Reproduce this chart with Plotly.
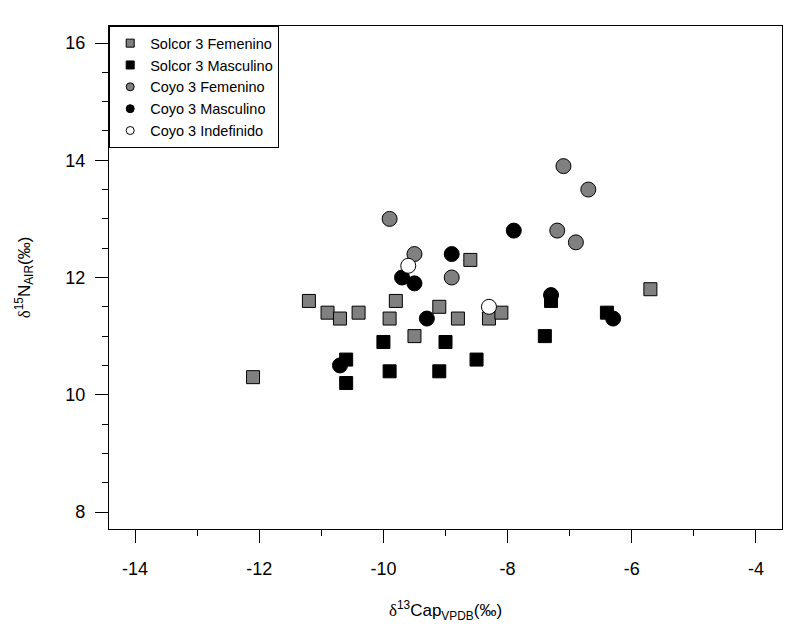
import plotly.graph_objects as go

# Solcor 3 Femenino
solcor_fem_x = [-12.1, -11.2, -10.9, -10.7, -10.4, -9.9, -9.8, -9.5, -9.1, -8.8, -8.6, -8.3, -8.1, -5.7]
solcor_fem_y = [10.3, 11.6, 11.4, 11.3, 11.4, 11.3, 11.6, 11.0, 11.5, 11.3, 12.3, 11.3, 11.4, 11.8]

# Solcor 3 Masculino
solcor_mas_x = [-10.6, -10.6, -10.0, -9.9, -9.1, -9.0, -8.5, -7.4, -7.3, -6.4]
solcor_mas_y = [10.6, 10.2, 10.9, 10.4, 10.4, 10.9, 10.6, 11.0, 11.6, 11.4]

# Coyo 3 Femenino
coyo_fem_x = [-9.9, -9.5, -8.9, -7.2, -7.1, -6.9, -6.7]
coyo_fem_y = [13.0, 12.4, 12.0, 12.8, 13.9, 12.6, 13.5]

# Coyo 3 Masculino
coyo_mas_x = [-10.7, -9.7, -9.5, -9.3, -8.9, -7.9, -7.3, -6.3]
coyo_mas_y = [10.5, 12.0, 11.9, 11.3, 12.4, 12.8, 11.7, 11.3]

# Coyo 3 Indefinido
coyo_ind_x = [-9.6, -8.3]
coyo_ind_y = [12.2, 11.5]

x_ticks = [-14, -12, -10, -8, -6, -4]
x_minor = [-13, -11, -9, -7, -5]
y_ticks = [8, 10, 12, 14, 16]

series = [
    ("Solcor 3 Femenino", solcor_fem_x, solcor_fem_y, "square", "#808080", 13),
    ("Solcor 3 Masculino", solcor_mas_x, solcor_mas_y, "square", "#000000", 13),
    ("Coyo 3 Femenino", coyo_fem_x, coyo_fem_y, "circle", "#808080", 15),
    ("Coyo 3 Masculino", coyo_mas_x, coyo_mas_y, "circle", "#000000", 15),
    ("Coyo 3 Indefinido", coyo_ind_x, coyo_ind_y, "circle", "#ffffff", 15),
]

fig = go.Figure()
for name, xs, ys, sym, col, sz in series:
    fig.add_trace(go.Scatter(
        x=xs, y=ys, mode="markers", name=name, showlegend=False,
        marker=dict(symbol=sym, color=col, size=sz, line=dict(color="black", width=1)),
    ))
# small legend-only markers, like the original
for name, xs, ys, sym, col, sz in series:
    fig.add_trace(go.Scatter(
        x=[None], y=[None], mode="markers", name=name,
        marker=dict(symbol=sym, color=col, size=8, line=dict(color="black", width=1)),
    ))

axis_common = dict(
    showgrid=False, zeroline=False, showline=True, mirror=True,
    linecolor="black", linewidth=1.2, ticks="outside", ticklen=13,
    tickwidth=1, tickcolor="black", tickfont=dict(size=18, color="black"),
)

fig.update_xaxes(
    range=[-14.42, -3.58], tickmode="array", tickvals=x_ticks,
    ticktext=[str(v) for v in x_ticks],  # plain hyphen, not unicode minus
    minor=dict(tickvals=x_minor, ticks="outside", ticklen=6, tickcolor="black"),
    ticklabelstandoff=10,
    title=dict(
        text="<span style='font-family:Liberation Serif'>δ</span><sup>13</sup>Cap<sub>VPDB</sub>(‰)",
        font=dict(size=17, color="black"), standoff=26,
    ),
    **axis_common,
)
fig.update_yaxes(
    range=[7.71, 16.29], tickmode="array", tickvals=y_ticks,
    minor=dict(dtick=0.5, ticks="outside", ticklen=6, tickcolor="black"),
    ticklabelstandoff=6,
    title=dict(
        text="<span style='font-family:Liberation Serif'>δ</span><sup>15</sup>N<sub>AIR</sub>(‰)",
        font=dict(size=17, color="black"), standoff=30,
    ),
    **axis_common,
)

# page body has an 8px margin, so size the figure to fit the window
fig.update_layout(
    width=783, height=625,
    margin=dict(l=101, r=9, t=18, b=104),
    paper_bgcolor="white", plot_bgcolor="white",
    font=dict(family="Liberation Sans, Arial, sans-serif", color="black"),
    legend=dict(
        x=0, y=1, xanchor="left", yanchor="top",
        bgcolor="white", bordercolor="black", borderwidth=1.2,
        font=dict(size=14.5, color="black"), itemwidth=30, tracegroupgap=0,
    ),
)

fig.write_html("out.html")
